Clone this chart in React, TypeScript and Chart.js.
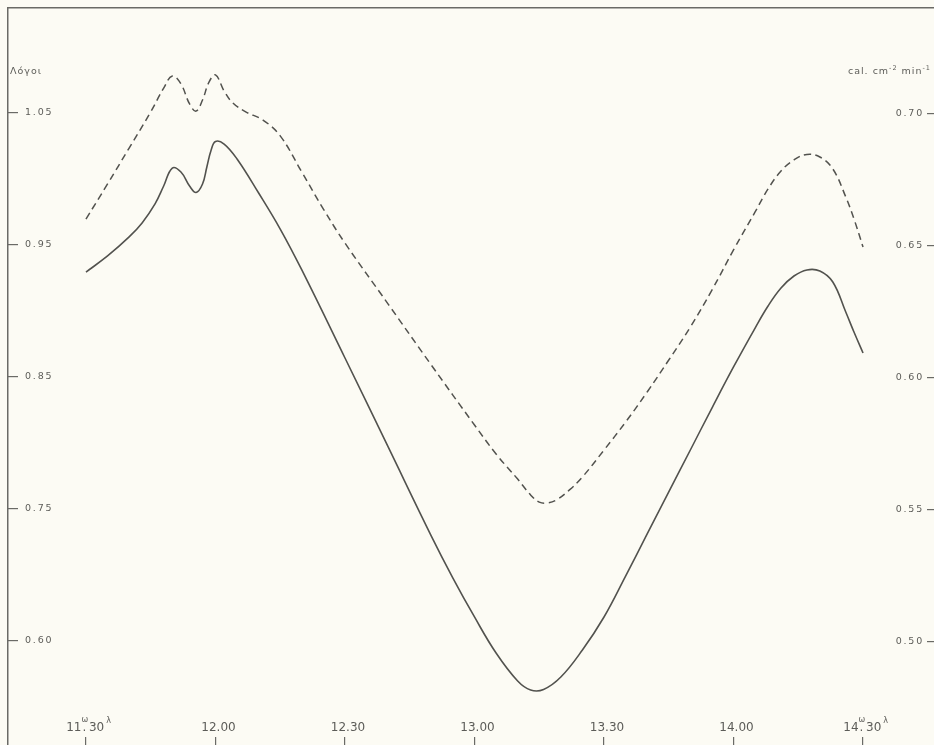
import React, { useEffect, useRef } from "react";
import { Chart, registerables } from "chart.js";

Chart.register(...registerables);

// Time in minutes after 11:30 (true solar time)
const ratioMinutes = [0, 5, 10, 13, 16, 18, 20, 22, 24, 25.5, 27, 28, 29, 30, 32, 35, 40, 45, 50, 60, 70, 80, 85, 90, 95, 100, 103, 106, 110, 115, 120, 125, 130, 135, 140, 145, 150, 155, 158, 161, 164, 167, 170, 173, 176, 178, 180];
// Solid curve – ratios (left axis, "Λόγοι")
const ratioValues = [0.9295, 0.9417, 0.9561, 0.9667, 0.9811, 0.9947, 1.0083, 1.0053, 0.9947, 0.9898, 0.9962, 1.0091, 1.022, 1.0284, 1.0265, 1.0152, 0.9894, 0.9621, 0.9311, 0.8644, 0.797, 0.7295, 0.6977, 0.6682, 0.6409, 0.6197, 0.6129, 0.6133, 0.6227, 0.6432, 0.6682, 0.6992, 0.7311, 0.7629, 0.7947, 0.8265, 0.8576, 0.8871, 0.9038, 0.9174, 0.9265, 0.9311, 0.9303, 0.922, 0.8992, 0.8833, 0.8682];

const radMinutes = [0, 5, 10, 15, 18, 20, 22, 24, 25.5, 27, 28.5, 30, 32, 34, 37, 41, 45, 50, 55, 60, 70, 80, 90, 95, 100, 103, 105, 107, 109, 112, 115, 120, 125, 130, 135, 140, 145, 150, 155, 158, 161, 164, 167, 170, 173, 176, 178, 180];
// Dashed curve – cal cm^-2 min^-1 (right axis)
const radValues = [0.6602, 0.6735, 0.6871, 0.7008, 0.7098, 0.7144, 0.7114, 0.7038, 0.7011, 0.7053, 0.7121, 0.7148, 0.7087, 0.7042, 0.7008, 0.6977, 0.6917, 0.678, 0.664, 0.6511, 0.628, 0.6049, 0.5822, 0.5712, 0.5617, 0.5557, 0.553, 0.5527, 0.5538, 0.5576, 0.5625, 0.5727, 0.5833, 0.5947, 0.6068, 0.6193, 0.6333, 0.6485, 0.6629, 0.6716, 0.6784, 0.6826, 0.6847, 0.6837, 0.6792, 0.6686, 0.6598, 0.6496];

const xTickValues = [0, 30, 60, 90, 120, 150, 180];
const xTickLabels = ["11ω30λ", "12.00", "12.30", "13.00", "13.30", "14.00", "14ω30λ"];
const leftTickValues = [1.05, 0.95, 0.85, 0.75, 0.65];
const leftTickLabels = ["1.05", "0.95", "0.85", "0.75", "0.60"];
const rightTickValues = [0.7, 0.65, 0.6, 0.55, 0.5];
const rightTickLabels = ["0.70", "0.65", "0.60", "0.55", "0.50"];
const leftTitle = "Λόγοι";
const rightTitleParts = ["cal. cm", "-2", " min", "-1"];

const BG = "#fcfbf4";
const LINE = "#52524e";
const AXIS = "#6a6a66";
const TEXT = "#5c5c58";
const FONT = "'DejaVu Sans', sans-serif";

const noPad = (s: any, horizontal: boolean) => {
  if (horizontal) s.height = 0;
  else s.width = 0;
  s.paddingTop = 0;
  s.paddingBottom = 0;
  s.paddingLeft = 0;
  s.paddingRight = 0;
};

export default function App() {
  const ref = useRef<HTMLCanvasElement | null>(null);

  useEffect(() => {
    const canvas = ref.current;
    if (!canvas) return;

    const textPlugin = {
      id: "customTexts",
      beforeDraw(chart: any) {
        chart.ctx.letterSpacing = "1.8px";
      },
      afterDraw(chart: any) {
        const ctx = chart.ctx;
        const xs = chart.scales.x;
        ctx.save();
        ctx.letterSpacing = "0px";
        ctx.fillStyle = TEXT;
        ctx.textBaseline = "alphabetic";
        const base = 731;
        xTickValues.forEach((v, i) => {
          const px = xs.getPixelForValue(v);
          const lab = xTickLabels[i];
          const m = lab.match(/^(\d+)ω(\d+)λ$/);
          if (m) {
            ctx.font = `12px ${FONT}`;
            ctx.textAlign = "right";
            ctx.fillText(m[1], px - 4.5, base);
            ctx.textAlign = "center";
            ctx.fillText(".", px - 1.5, base);
            ctx.textAlign = "left";
            ctx.fillText(m[2], px + 3, base);
            const w = ctx.measureText(m[2]).width;
            ctx.font = `8px ${FONT}`;
            ctx.fillText("ω", px - 4.5, base - 9);
            ctx.fillText("λ", px + 3 + w + 2, base - 8);
          } else {
            ctx.font = `12px ${FONT}`;
            ctx.textAlign = "center";
            ctx.fillText(lab, px + 3, base);
          }
        });

        // left title
        ctx.letterSpacing = "1px";
        ctx.font = `9.5px ${FONT}`;
        ctx.textAlign = "left";
        ctx.textBaseline = "middle";
        ctx.fillText(leftTitle, 10, 72);

        // right title with superscripts
        const big = `9.5px ${FONT}`;
        const small = `6.5px ${FONT}`;
        let total = 0;
        rightTitleParts.forEach((p, i) => {
          ctx.font = i % 2 === 0 ? big : small;
          total += ctx.measureText(p).width;
        });
        let x = 931 - total;
        rightTitleParts.forEach((p, i) => {
          const sup = i % 2 === 1;
          ctx.font = sup ? small : big;
          ctx.fillText(p, x, sup ? 68 : 72);
          x += ctx.measureText(p).width;
        });
        ctx.restore();
      },
    };

    const X_MIN = -18.06;
    const X_MAX = 196.44;

    const chart = new Chart(canvas, {
      type: "line",
      data: {
        datasets: [
          {
            data: ratioMinutes.map((m, i) => ({ x: m, y: ratioValues[i] })),
            xAxisID: "x",
            yAxisID: "yL",
            borderColor: LINE,
            borderWidth: 1.6,
            pointRadius: 0,
            fill: false,
            tension: 0.4,
          },
          {
            data: radMinutes.map((m, i) => ({ x: m, y: radValues[i] })),
            xAxisID: "x",
            yAxisID: "yR",
            borderColor: LINE,
            borderWidth: 1.5,
            borderDash: [7, 4.5],
            pointRadius: 0,
            fill: false,
            tension: 0.4,
          },
        ],
      },
      options: {
        animation: false,
        responsive: false,
        devicePixelRatio: 1,
        events: [],
        layout: { padding: { left: 8, top: 8, right: 0, bottom: 0 } },
        plugins: { legend: { display: false }, tooltip: { enabled: false } },
        scales: {
          x: {
            type: "linear",
            position: "bottom",
            min: X_MIN,
            max: X_MAX,
            afterBuildTicks: (s: any) => {
              s.ticks = xTickValues.map((v) => ({ value: v }));
            },
            afterFit: (s: any) => noPad(s, true),
            grid: { display: true, drawOnChartArea: false, drawTicks: true, tickLength: -8, color: AXIS, lineWidth: 1.2 },
            border: { display: false },
            ticks: { display: false },
          },
          xTop: {
            type: "linear",
            position: "top",
            min: X_MIN,
            max: X_MAX,
            afterFit: (s: any) => noPad(s, true),
            grid: { display: false },
            border: { display: true, color: AXIS, width: 1.4 },
            ticks: { display: false },
          },
          yL: {
            type: "linear",
            position: "left",
            min: 0.57121,
            max: 1.12955,
            afterBuildTicks: (s: any) => {
              s.ticks = leftTickValues.map((v) => ({ value: v }));
            },
            afterFit: (s: any) => noPad(s, false),
            grid: { display: true, drawOnChartArea: false, drawTicks: true, tickLength: -10, color: AXIS, lineWidth: 1.2 },
            border: { display: true, color: AXIS, width: 1.5 },
            ticks: {
              mirror: true,
              padding: 17,
              color: TEXT,
              font: { family: FONT, size: 9.5 },
              callback: (_v: any, i: number) => leftTickLabels[i],
            },
          },
          yR: {
            type: "linear",
            position: "right",
            min: 0.46098,
            max: 0.74015,
            afterBuildTicks: (s: any) => {
              s.ticks = rightTickValues.map((v) => ({ value: v }));
            },
            afterFit: (s: any) => noPad(s, false),
            grid: { display: true, drawOnChartArea: false, drawTicks: true, tickLength: -7, color: AXIS, lineWidth: 1.2 },
            border: { display: false },
            ticks: {
              mirror: true,
              padding: -10,
              color: TEXT,
              font: { family: FONT, size: 9.5 },
              callback: (_v: any, i: number) => rightTickLabels[i],
            },
          },
        },
      },
      plugins: [textPlugin],
    } as any);

    return () => {
      chart.destroy();
    };
  }, []);

  return (
    <div style={{ position: "fixed", left: 0, top: 0, width: 934, height: 745, background: BG, overflow: "hidden" }}>
      <canvas ref={ref} width={934} height={745} style={{ display: "block", width: 934, height: 745 }} />
    </div>
  );
}
